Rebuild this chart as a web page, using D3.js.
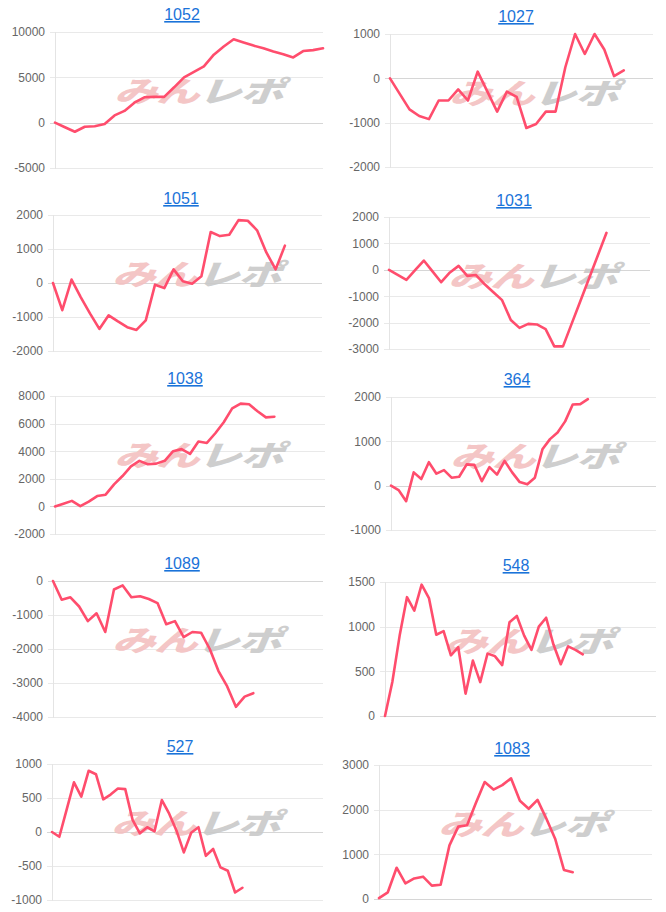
<!DOCTYPE html>
<html>
<head>
<meta charset="utf-8">
<script src="https://cdn.jsdelivr.net/npm/d3@7/dist/d3.min.js"></script>
<style>
  html, body { margin: 0; padding: 0; background: #fff; }
  svg { display: block; }
</style>
</head>
<body>
<svg id="chart" width="666" height="912"></svg>
<script>
// ---- data ----
const titles = ["1052", "1027", "1051", "1031", "1038", "364", "1089", "548", "527", "1083"];

const s1052 = [0, -500, -1000, -450, -400, -150, 800, 1300, 2200, 2800, 2850, 2850, 3900, 5000, 5600, 6200, 7500, 8400, 9200, 8850, 8500, 8200, 7850, 7550, 7200, 7900, 8000, 8200];
const s1027 = [0, -350, -700, -850, -920, -500, -500, -250, -500, 150, -300, -750, -300, -420, -1120, -1030, -750, -750, 250, 1000, 550, 1000, 650, 50, 180];
const s1051 = [0, -800, 100, -420, -900, -1350, -950, -1130, -1300, -1380, -1100, -50, -150, 400, 50, -20, 200, 1500, 1380, 1420, 1850, 1830, 1550, 900, 400, 1100];
const s1031 = [0, -190, -380, -15, 350, -60, -470, -100, 150, -230, -200, -550, -850, -1150, -1900, -2200, -2050, -2070, -2250, -2900, -2900, -2040, -1180, -320, 540, 1400];
const s1038 = [0, 200, 400, 20, 350, 750, 850, 1600, 2200, 2900, 3300, 3050, 3100, 3300, 4000, 4150, 3800, 4700, 4600, 5300, 6100, 7100, 7450, 7400, 6900, 6450, 6500];
const s364  = [0, -100, -350, 300, 150, 530, 270, 350, 180, 200, 480, 470, 100, 420, 250, 560, 300, 80, 30, 180, 820, 1050, 1200, 1450, 1830, 1840, 1950];
const s1089 = [0, -550, -480, -750, -1180, -950, -1500, -250, -130, -480, -450, -530, -650, -1270, -1180, -1650, -1500, -1520, -2000, -2650, -3100, -3700, -3400, -3300];
const s548  = [0, 380, 900, 1330, 1180, 1470, 1320, 910, 950, 680, 770, 250, 620, 380, 700, 670, 570, 1050, 1120, 900, 740, 1000, 1100, 800, 580, 780, 740, 690];
const s527  = [0, -70, 330, 730, 520, 900, 850, 480, 550, 640, 630, 180, -20, 70, 10, 470, 270, 20, -300, -10, 70, -350, -250, -520, -570, -890, -820];
const s1083 = [20, 150, 700, 350, 460, 500, 300, 320, 1200, 1620, 1650, 2150, 2620, 2450, 2550, 2700, 2200, 2020, 2220, 1800, 1350, 650, 600];

const seriesList = [s1052, s1027, s1051, s1031, s1038, s364, s1089, s548, s527, s1083];

// number of x slots (label count - 1) for each chart
const xSlots = [27, 27, 29, 30, 32, 35, 31, 37, 37, 31];

// y axis tick definitions
const yMins  = [-5000, -2000, -2000, -3000, -2000, -1000, -4000, 0, -1000, 0];
const yMaxs  = [10000, 1000, 2000, 2000, 8000, 2000, 0, 1500, 1000, 3000];
const ySteps = [5000, 1000, 1000, 1000, 2000, 1000, 1000, 500, 500, 1000];

const watermarkA = "みん";
const watermarkB = "レポ";

// ---- layout (positions only) ----
const layout = [
  {l: 55,  r: 323, t: 32,  b: 168, tx: 182, ty: 14},
  {l: 390, r: 653, t: 34,  b: 167, tx: 516, ty: 16},
  {l: 53,  r: 322, t: 215, b: 351, tx: 181, ty: 198},
  {l: 389, r: 650, t: 217, b: 349, tx: 514, ty: 200},
  {l: 55,  r: 325, t: 396, b: 534, tx: 185, ty: 378},
  {l: 391, r: 656, t: 397, b: 530, tx: 517, ty: 379},
  {l: 53,  r: 323, t: 581, b: 717, tx: 182, ty: 563},
  {l: 385, r: 656, t: 582, b: 716, tx: 516, ty: 565},
  {l: 52,  r: 323, t: 764, b: 900, tx: 180, ty: 746},
  {l: 379, r: 652, t: 765, b: 899, tx: 512, ty: 748}
];

const svg = d3.select("#chart");
const lineColor = "#ff4d6d";

titles.forEach((title, i) => {
  const L = layout[i];
  const vals = seriesList[i];
  const g = svg.append("g");

  const x = d3.scaleLinear().domain([0, xSlots[i]]).range([L.l, L.r]);
  const y = d3.scaleLinear().domain([yMins[i], yMaxs[i]]).range([L.b, L.t]);
  const ticks = d3.range(yMins[i], yMaxs[i] + 1, ySteps[i]);

  // gridlines
  g.append("g")
    .selectAll("line")
    .data(ticks)
    .join("line")
    .attr("x1", L.l - 5)
    .attr("x2", L.r)
    .attr("y1", d => Math.round(y(d)) + 0.5)
    .attr("y2", d => Math.round(y(d)) + 0.5)
    .attr("stroke", d => d === 0 ? "#d6d6d6" : "#e9e9e9")
    .attr("stroke-width", 1);

  // vertical axis line
  g.append("line")
    .attr("x1", L.l + 0.5).attr("x2", L.l + 0.5)
    .attr("y1", L.t).attr("y2", L.b + 1)
    .attr("stroke", "#e4e4e4");

  // y axis labels
  const axis = d3.axisLeft(y).tickValues(ticks).tickSize(0).tickPadding(10).tickFormat(d => String(d));
  const ag = g.append("g").attr("transform", `translate(${L.l},0)`).call(axis);
  ag.select(".domain").remove();
  ag.selectAll("text")
    .attr("fill", "#666")
    .style("font-family", "'Liberation Sans', Arial, sans-serif")
    .style("font-size", "12px");

  // watermark
  const wx = L.l + 143, wy = L.t + 58;
  const wm = g.append("text")
    .attr("transform", `translate(${wx},${wy + 12}) scale(1.2,0.8) skewX(-16)`)
    .attr("text-anchor", "middle")
    .attr("opacity", 0.9)
    .style("font-family", "'Noto Sans CJK JP', sans-serif")
    .style("font-weight", 900)
    .style("font-size", "36px")
    .style("letter-spacing", "-1px");
  wm.append("tspan").attr("fill", "#f3c0c0").text(watermarkA);
  wm.append("tspan").attr("fill", "#c9c9c9").text(watermarkB);

  // line
  const line = d3.line().x((d, j) => x(j)).y(d => y(d));
  g.append("path")
    .datum(vals)
    .attr("d", line)
    .attr("fill", "none")
    .attr("stroke", lineColor)
    .attr("stroke-width", 2.6)
    .attr("stroke-linejoin", "round")
    .attr("stroke-linecap", "round");

  // title
  g.append("text")
    .attr("x", L.tx)
    .attr("y", L.ty + 6)
    .attr("text-anchor", "middle")
    .attr("fill", "#1a73d9")
    .style("font-family", "'Liberation Sans', Arial, sans-serif")
    .style("font-size", "16px")
    .style("text-decoration", "underline")
    .text(title);
});
</script>
</body>
</html>
